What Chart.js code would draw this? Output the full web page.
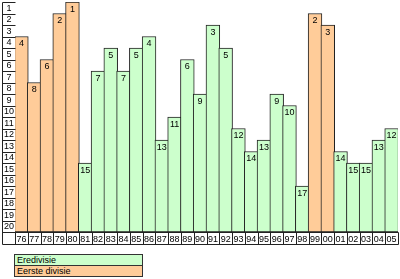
<!DOCTYPE html>
<html>
<head>
<meta charset="utf-8">
<script src="https://cdn.jsdelivr.net/npm/chart.js@4"></script>
<style>
  body { margin: 0; background: #fff; width: 400px; height: 279px; overflow: hidden; position: relative; font-family: "Liberation Sans", Arial, sans-serif; }
  #wrap { position: absolute; left: 0; top: 0; width: 400px; height: 250px; }
  #legend { position: absolute; left: 14px; top: 254px; width: 127px; border: 1px solid #333; font-size: 9px; color: #000; }
  #legend div { height: 10px; line-height: 10px; padding-left: 2px; }
  #legend div + div { border-top: 1px solid #333; }
</style>
</head>
<body>
<div id="wrap"><canvas id="chart" width="400" height="250"></canvas></div>
<div id="legend">
  <div style="background:#ccffcc">Eredivisie</div>
  <div style="background:#ffcc99">Eerste divisie</div>
</div>
<script>
// seizoenen (jaar van het einde van het seizoen) en eindpositie
const seizoenen = ['76','77','78','79','80','81','82','83','84','85','86','87','88','89','90',
                   '91','92','93','94','95','96','97','98','99','00','01','02','03','04','05'];
const posities = [4, 8, 6, 2, 1, 15, 7, 5, 7, 5, 4, 13, 11, 6, 9,
                  3, 5, 12, 14, 13, 9, 10, 17, 2, 3, 14, 15, 15, 13, 12];
// 'E' = Eredivisie, 'D' = Eerste divisie
const divisies = ['D','D','D','D','D','E','E','E','E','E','E','E','E','E','E',
                  'E','E','E','E','E','E','E','E','D','D','E','E','E','E','E'];
const rijen = [1,2,3,4,5,6,7,8,9,10,11,12,13,14,15,16,17,18,19,20];

const kleuren = { E: '#ccffcc', D: '#ffcc99' };
const fontje = '9px "Liberation Sans", Arial, sans-serif';

// tekent de vakjes links (1..20) en onder (jaren), plus de getallen in de balken
const vakjesPlugin = {
  id: 'vakjes',
  afterDatasetsDraw(chart) {
    const ctx = chart.ctx;
    const x = chart.scales.x, y = chart.scales.y;
    const area = chart.chartArea;
    const r = v => Math.round(v) + 0.5;

    ctx.save();
    ctx.font = fontje;
    ctx.fillStyle = '#000';
    ctx.textAlign = 'center';
    ctx.textBaseline = 'top';
    posities.forEach((p, i) => {
      ctx.fillText(String(p), x.getPixelForValue(i), y.getPixelForValue(p - 1) + 3);
    });

    ctx.strokeStyle = '#222';
    ctx.lineWidth = 1;
    const links = 2;
    // kolom links
    ctx.beginPath();
    ctx.moveTo(r(links), r(y.getPixelForValue(0)));
    ctx.lineTo(r(links), r(area.bottom + 12));
    rijen.forEach(n => {
      ctx.moveTo(r(links), r(y.getPixelForValue(n - 1)));
      ctx.lineTo(r(area.left), r(y.getPixelForValue(n - 1)));
    });
    // rij onder
    ctx.moveTo(r(links), r(area.bottom));
    ctx.lineTo(r(area.right), r(area.bottom));
    ctx.moveTo(r(links), r(area.bottom + 12));
    ctx.lineTo(r(area.right), r(area.bottom + 12));
    const breedte = (area.right - area.left) / seizoenen.length;
    for (let i = 0; i <= seizoenen.length; i++) {
      const xx = area.left + i * breedte;
      ctx.moveTo(r(xx), r(area.bottom));
      ctx.lineTo(r(xx), r(area.bottom + 12));
    }
    ctx.stroke();

    ctx.textBaseline = 'middle';
    rijen.forEach(n => {
      ctx.fillText(String(n), (links + area.left) / 2 + 0.5, (y.getPixelForValue(n - 1) + y.getPixelForValue(n)) / 2 + 0.5);
    });
    ctx.restore();
  }
};

new Chart(document.getElementById('chart'), {
  type: 'bar',
  data: {
    labels: seizoenen,
    datasets: [{
      data: posities.map(p => [p - 1, 20]),
      backgroundColor: divisies.map(d => kleuren[d]),
      borderColor: '#222',
      borderWidth: 1,
      borderSkipped: false,
      barThickness: 13.77
    }]
  },
  options: {
    responsive: false,
    animation: false,
    layout: { padding: { left: 15, right: 2, top: 2, bottom: 6 } },
    plugins: { legend: { display: false }, tooltip: { enabled: false } },
    scales: {
      x: {
        offset: true,
        grid: { display: false, drawTicks: false },
        border: { display: false },
        ticks: { font: { size: 9, family: '"Liberation Sans", Arial, sans-serif' }, color: '#000',
                 padding: 2, maxRotation: 0, autoSkip: false },
        afterFit: s => { s.height = 12; }
      },
      y: {
        display: false,
        min: 0,
        max: 20,
        reverse: true
      }
    }
  },
  plugins: [vakjesPlugin]
});
</script>
</body>
</html>
